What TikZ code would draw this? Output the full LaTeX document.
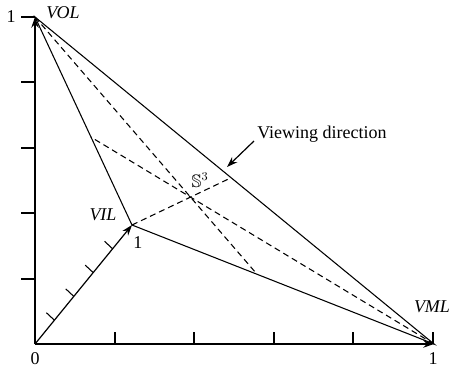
\documentclass[tikz,border=0pt]{standalone}
\usepackage{amssymb}
\usepackage{fontspec}
\setmainfont{Liberation Serif}
\usetikzlibrary{arrows.meta,calc}
\begin{document}
\begin{tikzpicture}[x=0.75pt,y=-0.75pt,
  axisline/.style={line width=1.2pt,-{Stealth[length=8pt,width=5.5pt]}},
  edgeline/.style={line width=0.8pt},
  cevian/.style={line width=0.8pt,dash pattern=on 4.5pt off 3pt},
  tickline/.style={line width=0.8pt},
  lbl/.style={font=\fontsize{13.5}{16}\selectfont,inner sep=0pt}]
\useasboundingbox (0,0) rectangle (451,369);
% vertices
\coordinate (O) at (35,344);
\coordinate (VOL) at (35,17);
\coordinate (VIL) at (132,225);
\coordinate (VML) at (434,344);
% ticks
\foreach \y in {17,82,148,213,279} \draw[tickline] (21,\y) -- (35,\y);
\foreach \x in {115,194,274,353,433} \draw[tickline] (\x,344) -- (\x,332);
\foreach \t in {0.2,0.4,0.6,0.8} \draw[tickline] ($(O)!\t!(VIL)$) -- ++(-8,-7.5);
% axes
\draw[axisline] (O) -- (VOL);
\draw[axisline] (O) -- (VML);
\draw[axisline,line width=0.9pt] (O) -- (VIL);
% triangle
\draw[edgeline] (VOL) -- (VIL) -- (VML) -- cycle;
% cevians
\coordinate (C1) at (barycentric cs:VIL=0.41,VML=0.29);
\coordinate (C2) at (barycentric cs:VOL=0.30,VML=0.29);
\coordinate (C3) at (barycentric cs:VOL=0.30,VIL=0.41);
\draw[cevian] (VOL) -- (C1);
\draw[cevian] (VIL) -- (C2);
\draw[cevian] (VML) -- (C3);
% labels
\node[lbl] (one1) at (11,17) {1};
\node[lbl] (lvol) at (63,13) {\itshape VOL};
\node[lbl] (lvil) at (103,215) {\itshape VIL};
\node[lbl] (one2) at (138,243) {1};
\node[lbl] (s3) at (200,180) {$\mathbb{S}^3$};
\node[lbl] (lvml) at (432,307) {\itshape VML};
\node[lbl] (zero) at (35,359) {0};
\node[lbl] (one3) at (433,359) {1};
\node[lbl,anchor=base west] (vd) at (257,138) {Viewing direction};
\coordinate (vdtail) at (254,141);
\coordinate (vdtip) at (227,167);
\draw[line width=0.9pt,-{Stealth[length=8pt,width=5.5pt]}] (vdtail) -- (vdtip);
\end{tikzpicture}
\end{document}
